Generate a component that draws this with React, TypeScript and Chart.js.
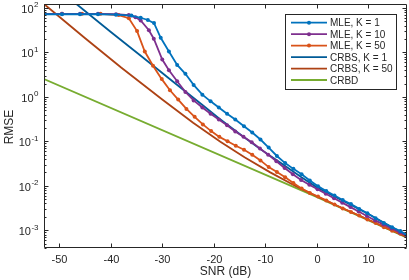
import React, { useEffect, useRef } from "react";
import { Chart, registerables } from "chart.js";

Chart.register(...registerables);

// ---- Data ----
const seriesLabels = ["MLE, K = 1", "MLE, K = 10", "MLE, K = 50", "CRBS, K = 1", "CRBS, K = 50", "CRBD"];

const mleK1Snr = [-53, -49.5, -46, -42.5, -39, -36, -34.2, -32.8, -31.6, -30.3, -28.7, -27.1, -25.5, -23.9, -22.2, -20.6, -19.0, -17.4, -15.8, -14.1, -12.5, -10.9, -9.3, -7.7, -6.1, -4.5, -2.9, -1.3, 0.3, 1.9, 3.5, 5.1, 6.7, 8.3, 9.9, 11.5, 13.1, 14.7, 16.3, 17.6];
const mleK1Rmse = [72.4, 72.4, 72.4, 72.4, 70.8, 67.6, 60.3, 53.7, 45.7, 21.4, 10.5, 5.25, 3.31, 1.86, 1.12, 0.794, 0.575, 0.417, 0.309, 0.219, 0.158, 0.110, 0.0724, 0.0468, 0.0324, 0.0240, 0.0182, 0.0132, 0.00977, 0.00759, 0.00603, 0.00479, 0.00389, 0.00302, 0.00240, 0.00186, 0.00145, 0.00117, 0.000955, 0.000776];

const mleK10Snr = [-53, -49.5, -46, -42.5, -39, -36.5, -35.2, -34.2, -32.6, -31.65, -30.0, -28.7, -27.1, -25.5, -23.9, -22.2, -20.6, -19.0, -17.4, -15.8, -14.2, -12.6, -11.0, -9.4, -7.8, -6.2, -4.6, -3.0, -1.4, 0.2, 1.8, 3.4, 5.0, 6.6, 8.2, 9.8, 11.4, 13.0, 14.6, 16.2, 17.6];
const mleK10Rmse = [74.1, 74.1, 74.1, 74.1, 72.4, 69.2, 61.7, 52.5, 31.6, 20.4, 6.92, 3.98, 2.24, 1.29, 0.832, 0.575, 0.417, 0.309, 0.229, 0.166, 0.126, 0.0955, 0.0692, 0.0501, 0.0355, 0.0251, 0.0182, 0.0135, 0.0105, 0.00832, 0.00661, 0.00525, 0.00417, 0.00331, 0.00263, 0.00209, 0.00166, 0.00135, 0.00110, 0.000891, 0.000741];

const mleK50Snr = [-53, -49.5, -45.6, -42, -38.5, -36.5, -34.9, -33.4, -31.8, -30.1, -28.5, -26.9, -25.3, -23.7, -22.1, -20.5, -18.9, -17.3, -15.7, -14.1, -12.5, -10.9, -9.3, -7.7, -6.1, -4.5, -2.9, -1.3, 0.3, 1.9, 3.5, 5.1, 6.7, 8.3, 9.9, 11.5, 13.1, 14.7, 16.3, 17.6];
const mleK50Rmse = [74.1, 74.1, 74.1, 74.1, 69.2, 58.9, 30.2, 10.5, 5.01, 2.51, 1.41, 0.871, 0.537, 0.355, 0.240, 0.170, 0.126, 0.100, 0.0794, 0.0646, 0.0501, 0.0372, 0.0263, 0.0204, 0.0155, 0.0115, 0.00871, 0.00692, 0.00575, 0.00468, 0.00380, 0.00309, 0.00257, 0.00214, 0.00174, 0.00145, 0.00117, 0.000977, 0.000832, 0.000724];

const crbsK1Snr = [-53, -46.7, -40, -34, -28, -22, -19, -15, -11, -7, -3, 0, 5, 10, 17.6];
const crbsK1Rmse = [479, 123, 28.8, 8.13, 2.24, 0.631, 0.331, 0.148, 0.0676, 0.0331, 0.0158, 0.00933, 0.00468, 0.00234, 0.000759];

const crbsK50Snr = [-53, -45, -38, -30, -24, -18.7, -14, -9, -4, 0, 5, 10, 17.6];
const crbsK50Rmse = [123, 20.9, 4.57, 0.871, 0.263, 0.0977, 0.0437, 0.0200, 0.00977, 0.00582, 0.00316, 0.00174, 0.000700];

const crbdSnr = [-53, 0, 17.6];
const crbdRmse = [2.51, 0.00562, 0.000676];

const xTickValues = [-50, -40, -30, -20, -10, 0, 10];
const yTickExponents = [-3, -2, -1, 0, 1, 2];
const xTitle = "SNR (dB)";
const yTitle = "RMSE";

const X_MIN = -53;
const X_MAX = 17.6;
const Y_MIN = 0.000398; // 10^-3.4
const Y_MAX = 123; // 10^2.09

const FONT = '"Liberation Sans", Arial, Helvetica, sans-serif';
const AXIS_COLOR = "#262626";

export default function App() {
  const ref = useRef<HTMLCanvasElement>(null);

  useEffect(() => {
    const canvas = ref.current;
    if (!canvas) return;

    const series = [
      { label: seriesLabels[0], xs: mleK1Snr, ys: mleK1Rmse, color: "#0072BD", marker: true },
      { label: seriesLabels[1], xs: mleK10Snr, ys: mleK10Rmse, color: "#7E2F8E", marker: true },
      { label: seriesLabels[2], xs: mleK50Snr, ys: mleK50Rmse, color: "#D95319", marker: true },
      { label: seriesLabels[3], xs: crbsK1Snr, ys: crbsK1Rmse, color: "#005B97", marker: false },
      { label: seriesLabels[4], xs: crbsK50Snr, ys: crbsK50Rmse, color: "#AD4214", marker: false },
      { label: seriesLabels[5], xs: crbdSnr, ys: crbdRmse, color: "#77AC30", marker: false },
    ];

    const datasets = series.map((s) => ({
      label: s.label,
      data: s.xs.map((x, i) => ({ x, y: s.ys[i] })),
      borderColor: s.color,
      backgroundColor: s.color,
      borderWidth: 1.8,
      pointRadius: s.marker ? 2 : 0,
      pointHoverRadius: 0,
      pointBorderWidth: 0,
      pointBackgroundColor: s.color,
      tension: 0,
      fill: false,
      clip: 0,
    }));

    const axesPlugin = {
      id: "matlabAxes",
      afterDraw(chart: any) {
        const { ctx, chartArea: a, scales } = chart;
        const xs = scales.x;
        const ys = scales.y;
        const L = Math.round(a.left) + 0.5;
        const R = Math.round(a.right) - 0.5;
        const T = Math.round(a.top) + 0.5;
        const B = Math.round(a.bottom) - 0.5;
        ctx.save();
        ctx.strokeStyle = AXIS_COLOR;
        ctx.fillStyle = AXIS_COLOR;
        ctx.lineWidth = 1;

        // box
        ctx.beginPath();
        ctx.rect(L, T, R - L, B - T);
        ctx.stroke();

        // x ticks + labels
        ctx.font = `11px ${FONT}`;
        ctx.textAlign = "center";
        ctx.textBaseline = "alphabetic";
        for (const v of xTickValues) {
          const px = Math.round(xs.getPixelForValue(v)) + 0.5;
          ctx.beginPath();
          ctx.moveTo(px, B);
          ctx.lineTo(px, B - 4);
          ctx.moveTo(px, T);
          ctx.lineTo(px, T + 4);
          ctx.stroke();
          ctx.fillText(String(v), px, 262.5);
        }

        // y ticks (major + minor)
        for (let e = -4; e <= 2; e++) {
          for (let m = 1; m <= 9; m++) {
            const v = m * Math.pow(10, e);
            if (v < Y_MIN || v > Y_MAX) continue;
            const py = Math.round(ys.getPixelForValue(v)) + 0.5;
            const len = m === 1 ? 4 : 2;
            ctx.beginPath();
            ctx.moveTo(L, py);
            ctx.lineTo(L + len, py);
            ctx.moveTo(R, py);
            ctx.lineTo(R - len, py);
            ctx.stroke();
          }
        }

        // y labels 10^k
        ctx.textAlign = "left";
        for (const e of yTickExponents) {
          const py = ys.getPixelForValue(Math.pow(10, e));
          const expStr = String(e);
          ctx.font = `8px ${FONT}`;
          const we = ctx.measureText(expStr).width;
          ctx.font = `11px ${FONT}`;
          const wb = ctx.measureText("10").width;
          const right = 38.5;
          ctx.fillText("10", right - we - wb - 0.5, py + 5);
          ctx.font = `8px ${FONT}`;
          ctx.fillText(expStr, right - we, py - 0.6);
        }

        // axis titles
        ctx.font = `12px ${FONT}`;
        ctx.textAlign = "center";
        ctx.fillText(xTitle, (a.left + a.right) / 2, 275);
        ctx.save();
        ctx.translate(12.5, (a.top + a.bottom) / 2 + 1);
        ctx.rotate(-Math.PI / 2);
        ctx.fillText(yTitle, 0, 0);
        ctx.restore();

        // legend
        const bx = 285.5, by = 14.5, bw = 111, bh = 75;
        ctx.fillStyle = "#ffffff";
        ctx.fillRect(bx, by, bw, bh);
        ctx.strokeStyle = AXIS_COLOR;
        ctx.strokeRect(bx, by, bw, bh);
        ctx.font = `10px ${FONT}`;
        ctx.textAlign = "left";
        series.forEach((s, i) => {
          const ry = 22.7 + 11.46 * i;
          ctx.strokeStyle = s.color;
          ctx.lineWidth = 1.8;
          ctx.beginPath();
          ctx.moveTo(291, ry);
          ctx.lineTo(327, ry);
          ctx.stroke();
          if (s.marker) {
            ctx.fillStyle = s.color;
            ctx.beginPath();
            ctx.arc(309, ry, 2, 0, Math.PI * 2);
            ctx.fill();
          }
          ctx.fillStyle = AXIS_COLOR;
          ctx.fillText(s.label, 330, ry + 3.7);
        });

        ctx.restore();
      },
    };

    const chart = new Chart(canvas, {
      type: "line",
      data: { datasets } as any,
      options: {
        responsive: false,
        animation: false,
        devicePixelRatio: 1,
        layout: { padding: { top: 4, right: 2, left: 0, bottom: 0 } },
        plugins: {
          legend: { display: false },
          tooltip: { enabled: false },
        },
        events: [],
        scales: {
          x: {
            type: "linear",
            min: X_MIN,
            max: X_MAX,
            grid: { display: false },
            border: { display: false },
            ticks: { display: false },
            afterFit: (s: any) => {
              s.height = 32;
            },
          },
          y: {
            type: "logarithmic",
            min: Y_MIN,
            max: Y_MAX,
            grid: { display: false },
            border: { display: false },
            ticks: { display: false },
            afterFit: (s: any) => {
              s.width = 44;
            },
          },
        },
      } as any,
      plugins: [axesPlugin],
    });

    return () => chart.destroy();
  }, []);

  return (
    <div style={{ position: "absolute", left: 0, top: 0, width: 409, height: 280, background: "#ffffff" }}>
      <canvas ref={ref} width={409} height={280} style={{ display: "block", width: 409, height: 280 }} />
    </div>
  );
}
